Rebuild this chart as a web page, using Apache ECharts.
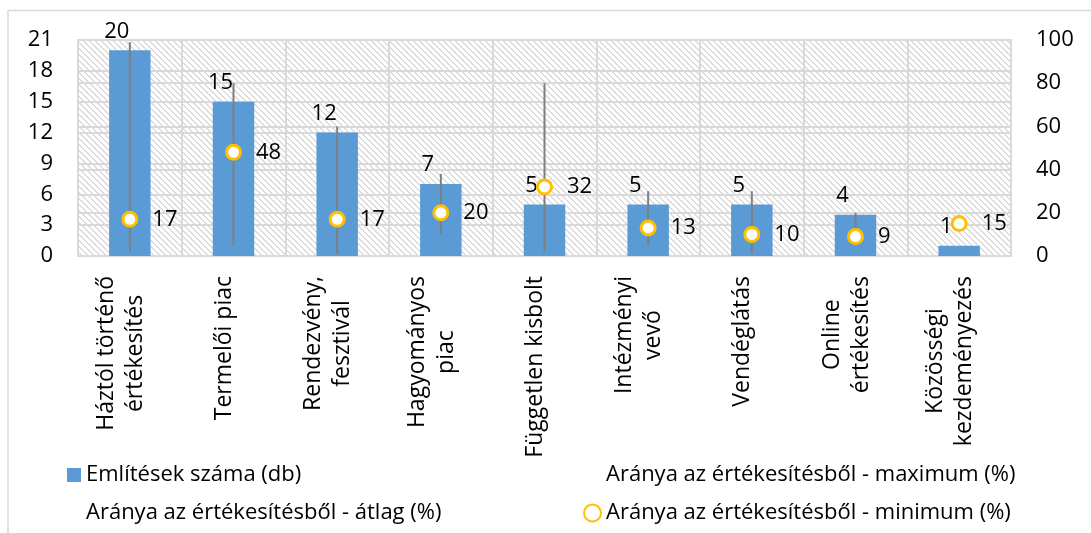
<!DOCTYPE html>
<html lang="hu">
<head>
<meta charset="UTF-8">
<title>Értékesítési csatornák</title>
<style>
  html, body { margin: 0; padding: 0; background: #fff; }
  #chart { width: 1091px; height: 533px; }
</style>
</head>
<body>
<div id="chart"></div>
<script src="https://cdn.jsdelivr.net/npm/echarts@6/dist/echarts.min.js"></script>
<script>
// kategóriák (két soros címkék \n-nel)
const categories = [
  'Háztól történő\nértékesítés',
  'Termelői piac',
  'Rendezvény,\nfesztivál',
  'Hagyományos\npiac',
  'Független kisbolt',
  'Intézményi\nvevő',
  'Vendéglátás',
  'Online\nértékesítés',
  'Közösségi\nkezdeményezés'
];
// említések száma (bal tengely)
const mentions = [20, 15, 12, 7, 5, 5, 5, 4, 1];
// arányok (jobb tengely, %)
const shareMax = [99, 80, 60, 38, 80, 30, 30, 20, 15];
const shareAvg = [2, 5, 1, 10, 2, 5, 1, 9, 15];
const shareMin = [17, 48, 17, 20, 32, 13, 10, 9, 15];
// tengely beosztások
const leftTicks = { min: 0, max: 21, interval: 3 };
const rightTicks = { min: 0, max: 100, interval: 20 };

const names = {
  bar: 'Említések száma (db)',
  max: 'Aránya az értékesítésből - maximum (%)',
  avg: 'Aránya az értékesítésből - átlag (%)',
  min: 'Aránya az értékesítésből - minimum (%)'
};

const FONT = 'Open Sans';
const grid = '#d9d9d9';

// sraffozott háttér a rajzterülethez
const hatch = document.createElement('canvas');
hatch.width = 12; hatch.height = 12;
const hc = hatch.getContext('2d');
hc.fillStyle = '#fff';
hc.fillRect(0, 0, 12, 12);
hc.fillStyle = '#dcdcdc';
for (let y = 0; y < 12; y++) {
  for (let x = 0; x < 12; x++) {
    const d = ((x - y) % 6 + 6) % 6;
    if (d < 2) hc.fillRect(x, y, 1, 1);
  }
}

// hi-lo vonalak adatai
const hiLo = categories.map((c, i) => {
  const v = [shareMax[i], shareAvg[i], shareMin[i]];
  return [i, Math.max(...v), Math.min(...v)];
});

const chart = echarts.init(document.getElementById('chart'));
chart.setOption({
  backgroundColor: '#fff',
  animation: false,
  textStyle: { fontFamily: FONT },
  graphic: [{
    type: 'rect',
    shape: { x: 8, y: 10.5, width: 1200, height: 700 },
    style: { fill: 'none', stroke: grid, lineWidth: 1.5 },
    silent: true
  }],
  grid: {
    left: 78, right: 80, top: 40, bottom: 277,
    show: true,
    backgroundColor: { image: hatch, repeat: 'repeat' },
    borderColor: grid,
    borderWidth: 2
  },
  legend: [{
    orient: 'vertical',
    left: 62, top: 455,
    itemGap: 8,
    itemWidth: 14, itemHeight: 14,
    textStyle: { fontFamily: FONT, fontSize: 22, color: '#000', lineHeight: 30 },
    data: [
      { name: names.bar, icon: 'rect' },
      { name: names.avg, icon: 'rect' }
    ]
  }, {
    orient: 'vertical',
    left: 578, top: 455,
    itemGap: 8,
    itemWidth: 17, itemHeight: 17,
    textStyle: { fontFamily: FONT, fontSize: 22, color: '#000', lineHeight: 30 },
    data: [
      { name: names.max, icon: 'rect' },
      { name: names.min, icon: 'circle' }
    ]
  }],
  xAxis: {
    type: 'category',
    data: categories,
    axisLine: { show: true, lineStyle: { color: grid, width: 2 } },
    axisTick: { show: false },
    splitLine: { show: true, lineStyle: { color: grid, width: 2 } },
    axisLabel: {
      rotate: 90,
      interval: 0,
      margin: 20,
      fontSize: 23,
      color: '#000',
      lineHeight: 29,
      padding: [0, 0, 18, 0],
      formatter: v => v.split('\n').map(s => '{c|' + s + '}').join('\n'),
      rich: { c: { align: 'center', fontSize: 23, lineHeight: 29, fontFamily: FONT, color: '#000' } }
    }
  },
  yAxis: [{
    type: 'value',
    min: leftTicks.min, max: leftTicks.max, interval: leftTicks.interval,
    axisLine: { show: false },
    axisTick: { show: false },
    splitLine: { show: true, lineStyle: { color: grid, width: 2 } },
    axisLabel: { fontSize: 22, color: '#000', margin: 25 }
  }, {
    type: 'value',
    min: rightTicks.min, max: rightTicks.max, interval: rightTicks.interval,
    axisLine: { show: false },
    axisTick: { show: false },
    splitLine: { show: true, lineStyle: { color: grid, width: 2 } },
    axisLabel: { fontSize: 22, color: '#000', margin: 25 }
  }],
  series: [{
    name: names.bar,
    type: 'bar',
    data: mentions,
    barWidth: '40%',
    itemStyle: { color: '#5b9bd5' },
    label: {
      show: true,
      position: 'top',
      distance: 8,
      offset: [-13, 0],
      fontSize: 22,
      color: '#000',
      fontFamily: FONT
    },
    z: 2
  }, {
    name: names.max,
    type: 'line',
    yAxisIndex: 1,
    data: shareMax,
    symbol: 'none',
    color: 'rgba(0,0,0,0)',
    lineStyle: { opacity: 0 },
    silent: true
  }, {
    name: names.avg,
    type: 'line',
    yAxisIndex: 1,
    data: shareAvg,
    symbol: 'none',
    color: 'rgba(0,0,0,0)',
    lineStyle: { opacity: 0 },
    silent: true
  }, {
    name: 'hilo',
    type: 'custom',
    yAxisIndex: 1,
    data: hiLo,
    encode: { x: 0, y: [1, 2] },
    renderItem: (params, api) => {
      const top = api.coord([api.value(0), api.value(1)]);
      const bot = api.coord([api.value(0), api.value(2)]);
      return {
        type: 'line',
        shape: { x1: top[0], y1: top[1], x2: bot[0], y2: bot[1] },
        style: { stroke: '#7f7f7f', lineWidth: 2 }
      };
    },
    z: 3
  }, {
    name: names.min,
    type: 'scatter',
    yAxisIndex: 1,
    data: shareMin,
    symbol: 'circle',
    symbolSize: 14,
    itemStyle: { color: '#fff', borderColor: '#ffc000', borderWidth: 3, opacity: 1 },
    label: {
      show: true,
      position: 'right',
      distance: 14,
      fontSize: 22,
      color: '#000',
      fontFamily: FONT
    },
    z: 4
  }]
});
</script>
</body>
</html>
